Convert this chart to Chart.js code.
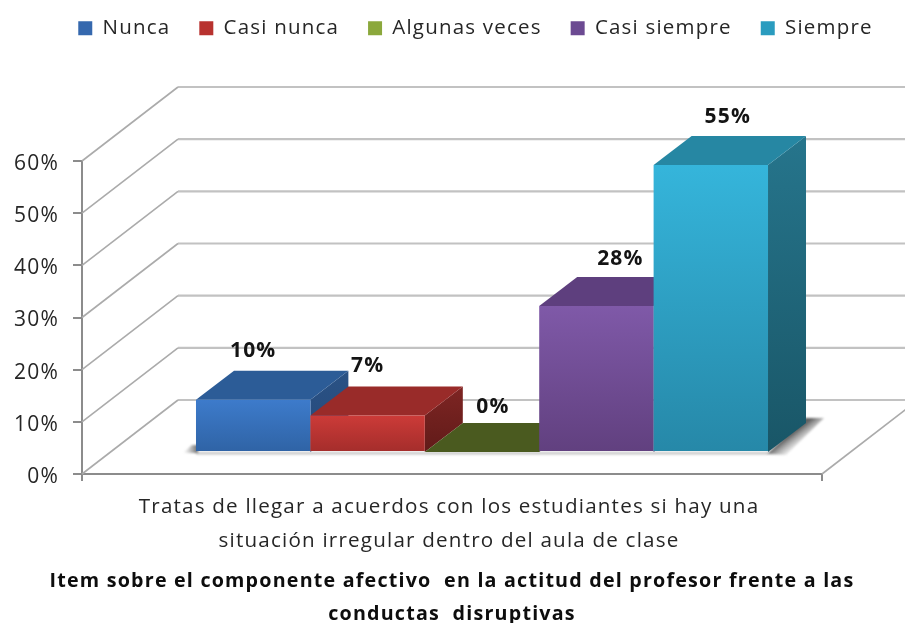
<!DOCTYPE html>
<html><head><meta charset="utf-8">
<style>html,body{margin:0;padding:0;background:#fff}#w{width:905px;height:623px;position:relative;overflow:hidden}canvas{filter:blur(.45px)}</style>
<script src="https://cdn.jsdelivr.net/npm/chart.js@4"></script>
</head><body><div id="w"><canvas id="c" width="905" height="623"></canvas></div>
<script>
const categories=['Nunca','Casi nunca','Algunas veces','Casi siempre','Siempre'];
const values=[10,7,0,28,55];
const xLabel=['Tratas de llegar a acuerdos con los estudiantes si hay una','situación irregular dentro del aula de clase'];
const axisTitle=['Item sobre el componente afectivo  en la actitud del profesor frente a las','conductas  disruptivas'];
const frontTop=['#3D7BCB','#CC3B38','#9BBB45','#7F59A8','#35B5DB'];
const frontBottom=['#2F63A5','#A42D2B','#7F9B35','#61407F','#2688A8'];
const topFace=['#2C5C97','#992B29','#4A5A1F','#5E3F7E','#2687A3'];
const sideTop=['#2A5285','#7E2523','#3F4D1A','#4F346B','#26758C'];
const sideBottom=['#26497A','#611B19','#36431A','#452C5E','#195667'];
const swatch=['#3568AE','#B8322F','#8BA83C','#6C4A92','#2A9CBF'];
const labelShift=[0,0,11,24,17];
const labelRaise=[49,49,45,47,48];

const FS='"Open Sans"';
const WALL={dx:96,dy:-74};      // depth of the whole floor
const BAR_OFF={dx:30,dy:-22};   // where the bars stand on the floor
const BAR_D={dx:38,dy:-29};     // depth of one bar

function poly(ctx,p){ctx.beginPath();p.forEach((q,i)=>i?ctx.lineTo(q[0],q[1]):ctx.moveTo(q[0],q[1]));ctx.closePath();}
function spacing(ctx,v){if('letterSpacing' in ctx)ctx.letterSpacing=v;}

const room={
  id:'room',
  beforeInit(chart){spacing(chart.ctx,'1.2px');},
  beforeLayout(chart){
    spacing(chart.ctx,'1.2px');
    const lg=chart.legend;
    if(lg&&!lg._wrapped){
      lg._wrapped=true;
      const f=lg.fit.bind(lg);
      lg.fit=function(){this.maxWidth=2000;f();this.height=172;};
    }
  },
  beforeDraw(chart){
    spacing(chart.ctx,'1.2px');
    const lg=chart.legend; lg.left=46; lg.right=905; lg.width=859;
    const x=chart.scales.x;
    if(!x._titleWide){
      x._titleWide=true;
      const dt=x.drawTitle;
      // the title is wider than the plot floor: let it use the room around the axis
      x.drawTitle=function(){const l=this.left,r=this.right;this.left=l-60;this.right=r+60;dt.call(this);this.left=l;this.right=r;};
    }
  },
  beforeDatasetsDraw(chart){
    const {ctx,scales:{x,y}}=chart;
    const L=x.left,R=x.right,B=y.getPixelForValue(0);
    ctx.save();
    ctx.lineCap='butt';
    // back wall lines + slants
    y.ticks.forEach(t=>{
      const py=y.getPixelForValue(t.value);
      ctx.strokeStyle='#C2C2C2';ctx.lineWidth=2.2;
      ctx.beginPath();ctx.moveTo(L+WALL.dx,py+WALL.dy);ctx.lineTo(chart.width,py+WALL.dy);ctx.stroke();
      ctx.strokeStyle='#ABABAB';ctx.lineWidth=1.6;
      ctx.beginPath();ctx.moveTo(L,py);ctx.lineTo(L+WALL.dx,py+WALL.dy);ctx.stroke();
    });
    ctx.strokeStyle='#ABABAB';ctx.lineWidth=1.6;
    ctx.beginPath();ctx.moveTo(R,B);ctx.lineTo(R+WALL.dx,B+WALL.dy);ctx.stroke();
    // soft shadows on the floor
    const m0=chart.getDatasetMeta(0).data[0],mN=chart.getDatasetMeta(values.length-1).data[0];
    const bx=BAR_OFF.dx,by=B+BAR_OFF.dy;
    const x0=m0.x-m0.width/2+bx, x1=mN.x+mN.width/2+bx;
    ctx.filter='blur(1px)';
    const midX=x1+BAR_D.dx/2, midY=by+BAR_D.dy/2;
    let g=ctx.createLinearGradient(midX,midY,midX+10,midY+13);
    g.addColorStop(0,'rgba(70,70,70,.85)');g.addColorStop(1,'rgba(150,150,150,0)');
    ctx.fillStyle=g;
    poly(ctx,[[x1-1,by+2],[x1+BAR_D.dx-1,by+BAR_D.dy-5],[x1+BAR_D.dx+18,by+BAR_D.dy-5],[x1+18,by+3]]);ctx.fill();
    g=ctx.createLinearGradient(x0-13,0,x0+1,0);
    g.addColorStop(0,'rgba(150,150,150,0)');g.addColorStop(1,'rgba(90,90,90,.85)');
    ctx.fillStyle=g;
    poly(ctx,[[x0+2,by-7],[x0+2,by+1],[x0-13,by+1],[x0-4,by-7]]);ctx.fill();
    ctx.fillStyle='rgba(130,130,130,.45)';
    ctx.fillRect(x0,by,x1-x0,2.5);
    ctx.restore();
    // bars, left to right, so each bar covers the side of the one before
    values.forEach((v,i)=>{
      const meta=chart.getDatasetMeta(i), el=meta.data[0];
      ctx.save();
      ctx.translate(BAR_OFF.dx,BAR_OFF.dy);
      const base=y.getPixelForValue(0), top=el.y;
      const l=el.x-el.width/2, r=el.x+el.width/2, d=BAR_D;
      if(top<base){
        const s=ctx.createLinearGradient(0,top+d.dy,0,base);
        s.addColorStop(0,sideTop[i]);s.addColorStop(1,sideBottom[i]);
        ctx.fillStyle=s;
        poly(ctx,[[r,top],[r+d.dx,top+d.dy],[r+d.dx,base+d.dy],[r,base]]);ctx.fill();
      }
      ctx.fillStyle=topFace[i];
      poly(ctx,[[l,top],[l+d.dx,top+d.dy],[r+d.dx,top+d.dy],[r,top]]);ctx.fill();
      meta.controller.draw();
      ctx.restore();
    });
  },
  beforeDatasetDraw(){return false;},
  afterDatasetsDraw(chart){
    const {ctx}=chart;
    ctx.save();
    ctx.font='700 21px '+FS;ctx.fillStyle='#141414';
    ctx.textAlign='center';ctx.textBaseline='middle';
    values.forEach((v,i)=>{
      const el=chart.getDatasetMeta(i).data[0];
      ctx.fillText(v+'%',el.x+BAR_OFF.dx+labelShift[i],el.y+BAR_OFF.dy-labelRaise[i]);
    });
    ctx.restore();
  }
};

function grad(i){
  return function(c){
    const ch=c.chart, s=ch.scales.y;
    if(!s||!ch.chartArea)return swatch[i];
    const g=ch.ctx.createLinearGradient(0,s.getPixelForValue(values[i]),0,s.getPixelForValue(0));
    g.addColorStop(0,frontTop[i]);g.addColorStop(1,frontBottom[i]);
    return g;
  };
}

new Chart(document.getElementById('c'),{
  type:'bar',
  data:{
    labels:[xLabel],
    datasets:categories.map((name,i)=>({
      label:name,
      data:[values[i]],
      clip:false,
      backgroundColor:grad(i),
      borderWidth:0
    }))
  },
  plugins:[room],
  options:{
    responsive:false,animation:false,
    layout:{padding:{top:-11,right:83,left:0,bottom:0}},
    datasets:{bar:{categoryPercentage:0.773,barPercentage:1}},
    plugins:{
      tooltip:{enabled:false},
      legend:{
        position:'top',align:'center',
        labels:{
          boxWidth:14,boxHeight:14,padding:29,color:'#262626',
          font:{family:FS,size:20.5},
          generateLabels(){return categories.map((t,i)=>({text:t,fillStyle:swatch[i],strokeStyle:swatch[i],lineWidth:0,datasetIndex:i,fontColor:'#262626'}));}
        }
      }
    },
    scales:{
      x:{
        afterFit(s){s.height=149;},
        grid:{drawOnChartArea:false,tickLength:7,color:'#8C8C8C',lineWidth:2},
        border:{color:'#8C8C8C',width:2},
        ticks:{color:'#262626',font:{family:FS,size:20.6,lineHeight:1.61},padding:10,labelOffset:-3,maxRotation:0,autoSkip:false},
        title:{display:true,text:axisTitle,color:'#0D0D0D',font:{family:FS,size:19.7,weight:'700',lineHeight:1.68},padding:{top:0,bottom:-8}}
      },
      y:{
        min:0,max:60,
        afterFit(s){s.width=82;},
        grid:{drawOnChartArea:false,tickLength:9,color:'#8C8C8C',lineWidth:2},
        border:{color:'#8C8C8C',width:2},
        ticks:{stepSize:10,color:'#262626',padding:14,labelOffset:3,font:{family:FS,size:21},callback:v=>v+'%'}
      }
    }
  }
});
</script></body></html>
